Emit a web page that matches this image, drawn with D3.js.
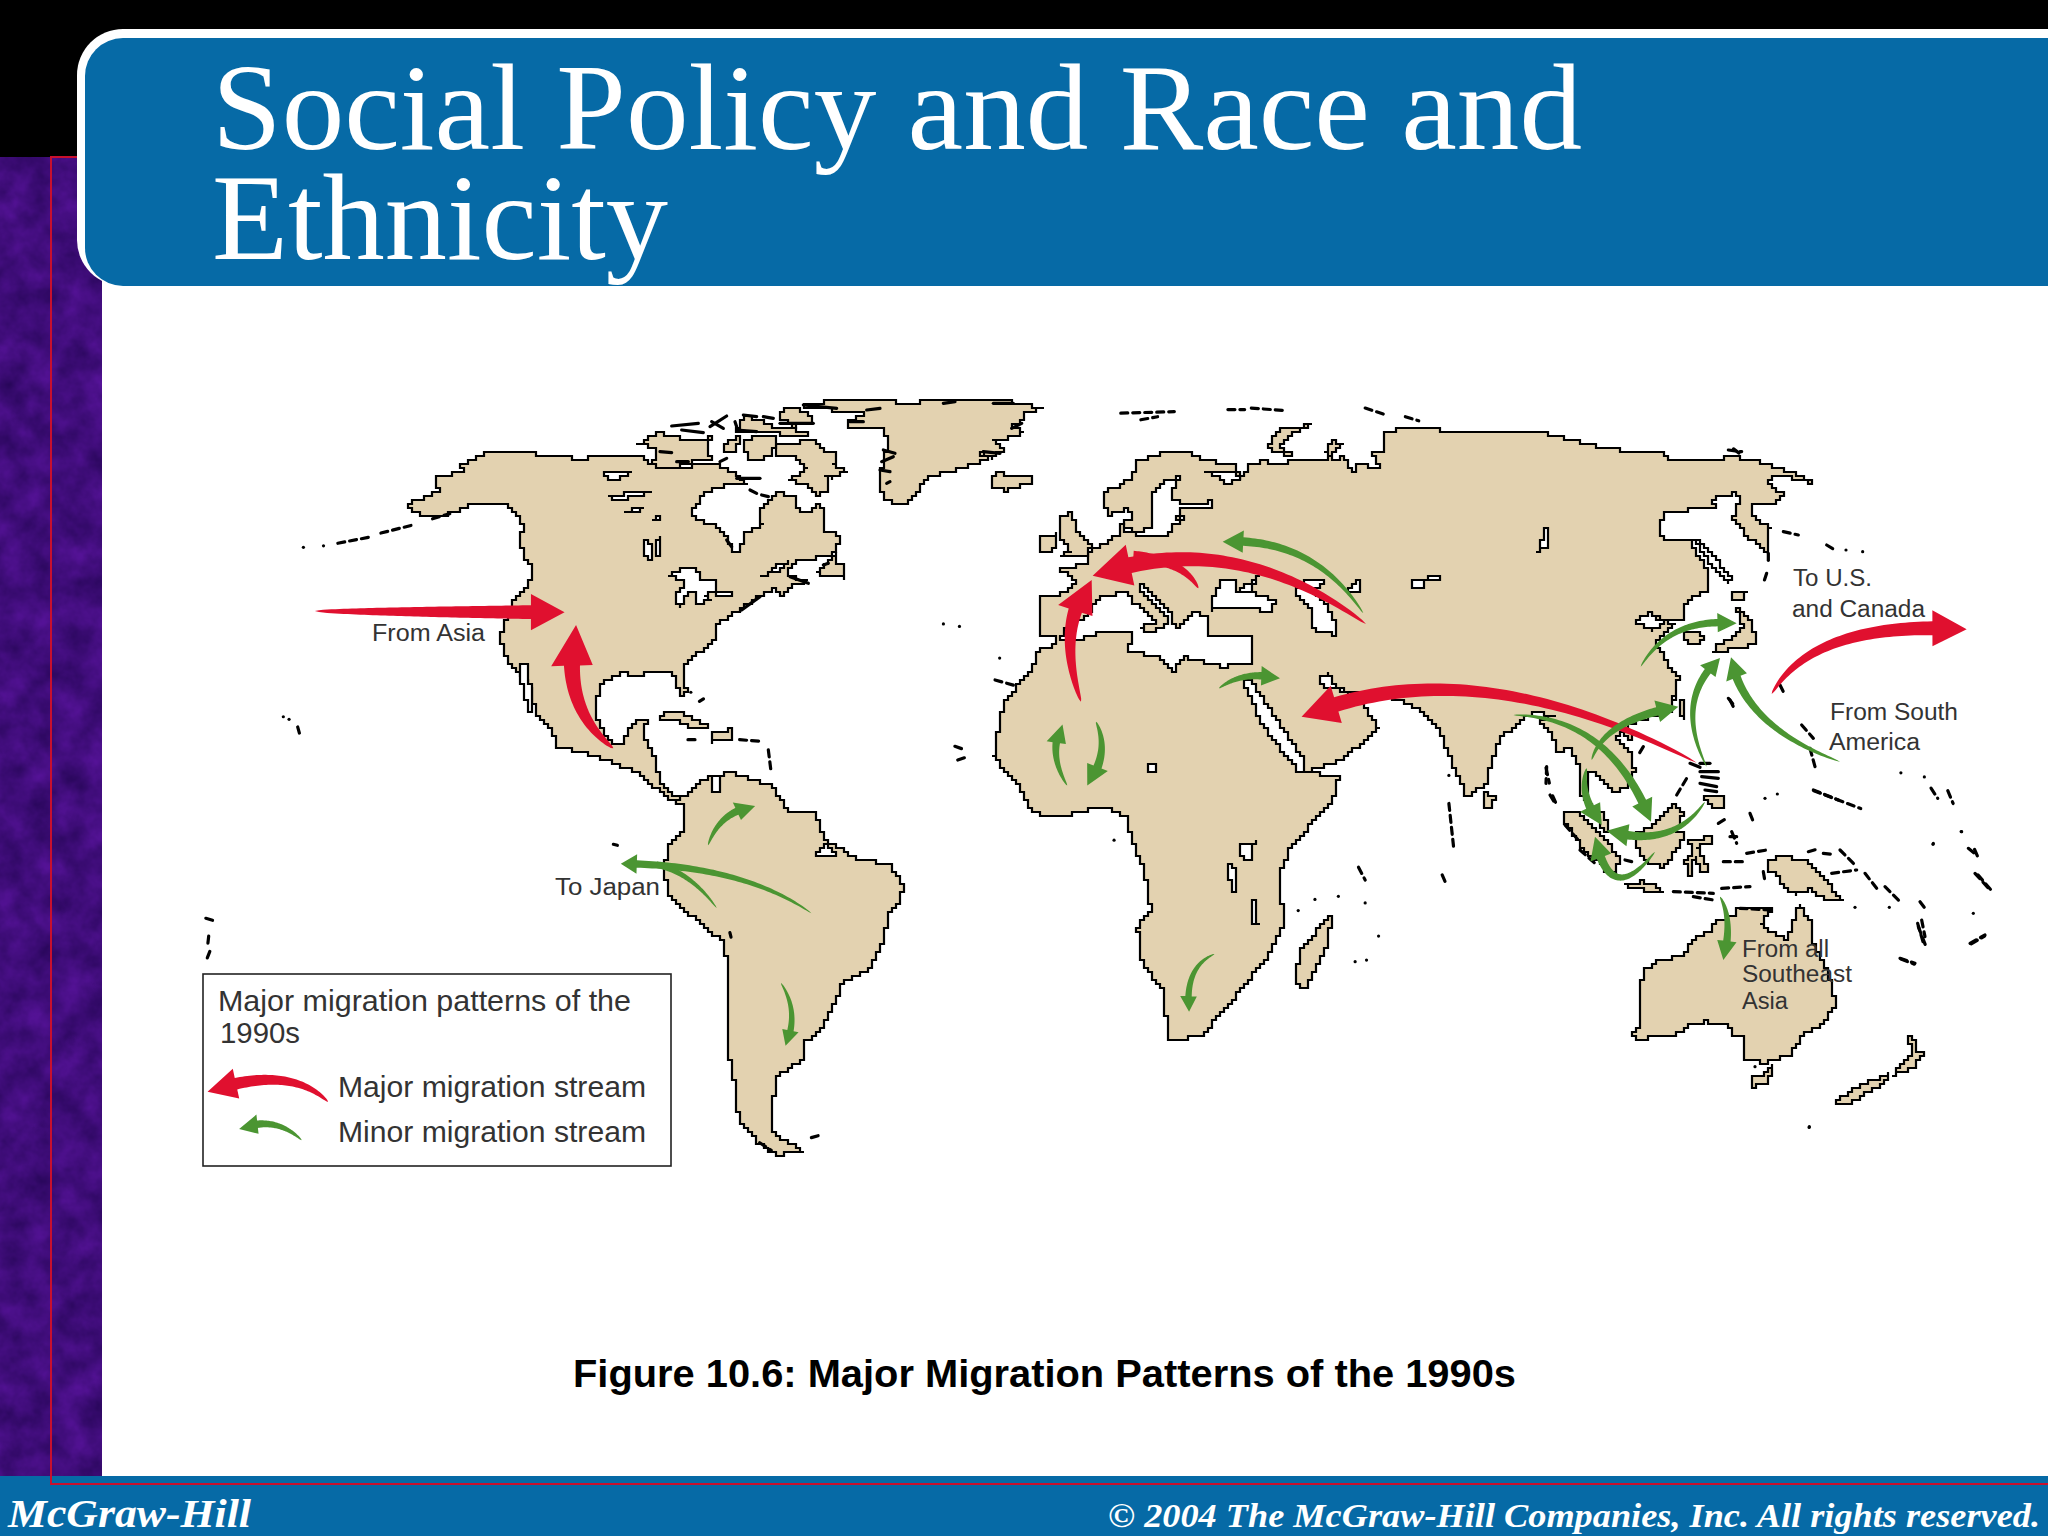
<!DOCTYPE html>
<html>
<head>
<meta charset="utf-8">
<title>Social Policy and Race and Ethnicity</title>
<script src="https://cdn.jsdelivr.net/npm/d3@7"></script>
<style>
  html, body { margin: 0; padding: 0; background: #fff; }
  svg { display: block; }
  .land { fill: #e3d2b0; stroke: #000; stroke-width: 2.2; }
  .water { fill: #fff; stroke: #000; stroke-width: 2.2; }
  .islet { fill: none; stroke: #000; stroke-width: 3.2; stroke-linecap: round; stroke-linejoin: round; }
  .chain { stroke-dasharray: 7 5; }
  .label { font-family: "Liberation Sans", Arial, sans-serif; fill: #333; }
</style>
</head>
<body>
<svg id="chart" width="2048" height="1536"></svg>
<script>
// Map sheets: name, left, top, width, height of the piece of the map, and its grid size
const sheetList = [
  ["west", 180, 380, 900, 800, 1568, 1568],
  ["east", 950, 380, 1050, 800, 1568, 1568],
  ["arctic", 560, 390, 500, 300, 1500, 900],
  ["europe", 1020, 420, 420, 340, 1260, 1020],
  ["sea", 1500, 680, 340, 340, 1020, 1020],
  ["japan", 1600, 420, 380, 320, 1140, 960],
  ["oceania", 1560, 820, 440, 320, 1320, 960]
];

// Land outlines in sheet grid units
const northAmerica = [
  ["west", [[405,258],[395,245],[415,235],[450,215],[445,190],[495,180],[490,165],[520,150],[545,140],[590,140],[640,150],[662,147]]],
  ["arctic", [[50,210],[100,200],[170,195],[240,195],[270,225],[350,235],[400,225],[470,225],[530,260],[560,285],[530,285],[480,290],[430,320],[398,355],[405,390],[450,400],[500,440],[515,488],[540,480],[555,430],[608,400],[595,370],[615,345],[640,315],[660,310],[705,320],[715,360],[740,370],[765,345],[785,350],[790,420],[820,430],[838,450],[830,490],[780,500],[720,515],[680,540],[690,560],[745,575],[700,590],[660,620],[650,595],[600,620],[545,655],[510,680],[470,700],[470,745],[420,785],[372,825],[378,900]]],
  ["west", [[880,620],[875,622],[860,575],[830,570],[800,578],[770,575],[735,595],[722,650],[730,680],[750,710],[770,712],[780,690],[800,665],[815,670],[805,700],[830,745],[835,790],[860,815],[880,815],[878,830],[855,825],[830,800],[800,770],[760,750],[720,735],[660,720],[650,690],[620,650],[610,600],[590,575],[570,545],[555,500],[565,480],[575,440],[605,400],[615,370],[600,340],[590,310],[600,290],[585,260],[560,240],[520,240],[480,258],[450,270]]]
];
const southAmerica = [["west", [[855,825],[880,815],[900,790],[930,775],[960,770],[1030,795],[1060,845],[1105,850],[1125,905],[1185,940],[1235,950],[1260,990],[1255,1020],[1235,1050],[1225,1105],[1200,1160],[1155,1180],[1140,1225],[1115,1280],[1085,1300],[1090,1330],[1040,1370],[1035,1400],[1030,1440],[1035,1480],[1085,1512],[1040,1520],[1010,1495],[975,1450],[965,1370],[955,1320],[955,1200],[950,1100],[880,1040],[850,1000],[845,960],[850,910],[880,875],[880,830]]]];
const afroEurasia = [
  ["east", [[104,594],[80,640],[65,740],[100,790],[125,850],[165,855],[230,835],[265,860],[270,900],[290,960],[300,1040],[280,1080],[285,1140],[320,1200],[325,1295],[375,1285],[430,1200],[475,1125],[500,1060],[490,975],[510,910],[570,830],[580,775],[530,770],[590,740],[640,680],[620,640],[590,610],[640,615],[700,645],[730,690],[770,815],[800,790],[820,700],[870,650],[905,660]]],
  ["sea", [[115,120],[160,180],[170,220],[205,200],[235,265],[240,345],[270,380],[315,400],[320,450],[295,420],[262,350],[262,270],[300,290],[345,340],[385,310],[405,270],[390,215],[345,170],[385,135],[420,120],[510,90],[530,40]]],
  ["japan", [[215,850],[235,770],[200,720],[165,660],[225,610],[170,590],[110,605],[150,580],[180,595],[245,600],[260,540],[320,510],[325,450],[300,410],[270,360],[210,360],[175,340],[190,280],[300,265],[345,265],[340,235],[400,220],[420,230],[400,295],[440,350],[500,395],[510,320],[450,280],[450,255],[520,255],[550,220],[500,185],[530,165],[640,190],[600,165],[480,125],[400,110],[330,125],[220,120],[180,95],[100,95],[40,85],[0,80]]],
  ["east", [[880,100],[780,105]]],
  ["europe", [[1180,20],[1090,40],[1095,100],[1050,90],[1075,145],[1010,130],[1000,160],[970,110],[945,125],[915,95],[930,60],[970,75],[920,115],[850,120],[790,130],[740,125],[690,130],[680,150],[660,185],[650,135],[560,120],[510,100],[430,100],[345,130],[340,170],[310,195],[255,215],[250,250],[265,285],[320,265],[340,290],[310,310],[295,345],[245,375],[200,400],[205,430],[125,450],[170,490],[115,530],[60,530],[55,640],[110,655],[95,680],[60,690],[35,750]]]
];
const otherLand = [
  ["arctic", [[730,45],[830,30],[1000,30],[1005,45],[1080,35],[1240,25],[1300,25],[1370,40],[1450,55],[1390,70],[1385,100],[1355,110],[1390,130],[1340,150],[1300,155],[1330,180],[1300,205],[1265,190],[1280,210],[1190,240],[1100,265],[1075,300],[1045,345],[1000,340],[975,320],[960,290],[965,230],[975,190],[985,150],[970,115],[870,110],[860,95],[910,70],[830,60],[750,55]]],
  ["arctic", [[1295,265],[1315,245],[1350,260],[1410,258],[1415,280],[1370,295],[1340,300],[1300,285]]],
  ["arctic", [[650,165],[750,150],[790,180],[830,195],[820,225],[865,243],[820,265],[795,255],[805,300],[770,315],[735,280],[680,270],[740,235],[700,195],[650,200]]],
  ["arctic", [[230,165],[290,130],[350,140],[380,155],[440,155],[450,140],[445,190],[450,205],[400,215],[340,235],[270,225],[290,200],[285,170]]],
  ["arctic", [[500,150],[540,140],[530,180],[495,180]]],
  ["arctic", [[555,145],[650,140],[640,190],[600,210],[560,205]]],
  ["arctic", [[660,60],[700,50],[740,70],[760,100],[700,110],[660,80]]],
  ["arctic", [[550,75],[600,95],[640,110],[745,125],[740,135],[620,130],[570,130],[530,120]]],
  ["arctic", [[770,545],[800,515],[825,490],[830,520],[855,520],[855,565],[800,555]]],
  ["west", [[838,655],[860,648],[890,660],[920,680],[900,685],[870,668],[840,665]]],
  ["west", [[930,690],[960,685],[965,705],[930,710]]],
  ["europe", [[120,290],[155,275],[170,340],[210,380],[200,405],[125,410],[150,390],[120,340]]],
  ["europe", [[55,385],[65,350],[110,340],[100,400],[60,395]]],
  ["europe", [[745,85],[770,30],[870,15],[810,45],[780,80],[810,105],[760,95]]],
  ["east", [[570,1050],[565,1110],[530,1195],[515,1175],[525,1110]]],
  ["east", [[800,810],[815,820],[805,840],[795,830]]],
  ["sea", [[190,400],[230,400],[300,460],[355,540],[350,585],[320,570],[250,500],[200,430]]],
  ["sea", [[375,615],[420,605],[480,625],[490,640],[440,630]]],
  ["sea", [[405,465],[450,440],[480,405],[520,375],[550,400],[530,455],[555,465],[530,510],[490,560],[430,540],[415,500]]],
  ["sea", [[565,480],[640,470],[640,490],[590,500],[610,540],[625,580],[600,570],[585,530],[570,590],[555,540],[575,510]]],
  ["sea", [[610,350],[660,345],[675,380],[640,385]]],
  ["sea", [[535,65],[555,60],[555,115],[540,95]]],
  ["sea", [[375,155],[400,155],[395,175],[375,170]]],
  ["japan", [[255,630],[290,630],[310,660],[280,675],[260,670]]],
  ["japan", [[410,560],[450,600],[470,670],[430,680],[380,690],[335,700],[350,670],[400,650],[430,620]]],
  ["japan", [[390,520],[440,520],[430,545],[400,545]]],
  ["oceania", [[620,130],[660,105],[740,125],[780,165],[810,200],[850,240],[800,240],[760,205],[710,225],[670,195],[660,165],[620,150]]],
  ["oceania", [[250,450],[290,425],[370,405],[405,350],[445,335],[470,300],[520,290],[530,265],[630,270],[605,315],[635,340],[680,360],[715,255],[755,320],[760,370],[790,430],[820,510],[825,560],[790,610],[730,650],[690,710],[640,720],[620,730],[555,715],[550,650],[520,640],[505,615],[440,605],[380,620],[350,645],[280,650],[230,665],[215,640],[240,615],[240,530],[245,480]]],
  ["oceania", [[575,770],[610,765],[630,740],[640,735],[625,790],[575,805]]],
  ["oceania", [[825,840],[900,795],[985,760],[975,790],[890,840],[855,855]]],
  ["oceania", [[1000,765],[1015,740],[1060,690],[1045,650],[1060,650],[1065,695],[1095,705],[1060,745],[1030,755]]]
];

// Seas and lakes that sit inside the land outlines
const waters = [
  ["europe", [[125,655],[165,665],[230,640],[300,630],[340,640],[325,690],[410,710],[460,750],[490,710],[600,740],[690,730],[700,645],[600,645],[570,650],[560,590],[530,575],[490,610],[470,625],[450,570],[360,490],[355,510],[440,590],[440,610],[400,640],[360,625],[410,600],[335,540],[320,515],[235,535],[190,600],[150,610]]],
  ["europe", [[570,550],[600,485],[640,480],[650,510],[700,480],[715,470],[690,510],[660,515],[730,525],[765,550],[750,575],[680,560],[620,565],[575,570]]],
  ["europe", [[825,510],[850,480],[910,480],[905,505],[860,500],[920,555],[950,610],[945,645],[900,635],[880,620],[880,570]]],
  ["europe", [[400,215],[440,180],[480,170],[450,240],[500,255],[550,255],[575,240],[580,260],[550,265],[490,265],[465,300],[495,285],[490,300],[460,320],[440,350],[370,350],[320,330],[305,310],[350,340],[400,310],[400,260]]],
  ["europe", [[550,150],[650,160],[660,180],[615,195],[595,165]]],
  ["europe", [[985,500],[1015,480],[1015,520],[990,520]]],
  ["east", [[438,585],[450,590],[490,670],[528,750],[525,772],[500,735],[465,670]]],
  ["east", [[550,580],[565,575],[575,600],[590,610],[560,600]]],
  ["east", [[295,750],[310,750],[310,765],[300,765]]],
  ["east", [[435,910],[455,905],[450,940],[435,935]]],
  ["east", [[415,950],[423,950],[430,1005],[422,1005]]],
  ["east", [[448,1020],[456,1020],[460,1068],[452,1068]]],
  ["east", [[878,335],[890,290],[895,330]]],
  ["east", [[690,392],[730,386],[730,393],[705,395],[705,405],[692,405]]],
  ["arctic", [[325,560],[370,535],[405,530],[420,565],[465,575],[465,600],[430,620],[460,630],[405,645],[410,610],[405,600],[370,620],[365,648],[345,645],[350,600],[375,580],[360,565]]],
  ["arctic", [[470,610],[520,605],[510,620],[470,620]]],
  ["arctic", [[135,250],[180,240],[220,245],[200,260],[150,268]]],
  ["arctic", [[145,322],[200,310],[280,300],[230,320],[190,328]]],
  ["arctic", [[195,365],[225,352],[255,358],[200,370]]],
  ["arctic", [[270,395],[295,378],[298,392]]],
  ["arctic", [[255,455],[275,460],[270,510],[258,500]]],
  ["arctic", [[290,445],[305,440],[300,500],[285,500]]],
  ["arctic", [[605,558],[645,525],[680,515],[675,535]]],
  ["west", [[592,555],[605,560],[615,640],[610,650],[598,610]]],
  ["west", [[925,780],[940,780],[940,805],[930,805]]],
  ["west", [[1105,925],[1125,910],[1140,930],[1120,935]]],
  ["japan", [[105,605],[145,575],[165,595],[195,605],[160,630]]],
  ["japan", [[280,355],[320,385],[395,480],[385,490],[340,440]]]
];

// Small islands and reefs, too small to fill
const westIslets = [[[215,328]],[[250,325]],[[275,320],[330,308]],[[350,300],[410,283]],[[440,272],[470,262]],[[180,660]],[[190,665]],[[205,680],[208,692]],[[45,1055],[60,1060]],[[50,1090],[48,1110]],[[52,1120],[45,1140]],[[890,612]],[[905,630],[912,625]],[[885,705],[900,705]],[[975,705],[1010,708]],[[1025,725],[1030,770]],[[1100,1485],[1115,1480]],[[958,1083],[960,1092]],[[755,910],[762,912]],[[1330,478]],[[1358,483]],[[1428,545]],[[1420,588],[1452,598]],[[1350,718],[1368,725]],[[1355,745],[1368,740]],[[1010,1495],[1030,1510]]];
const eastIslets = [[[255,65],[335,62]],[[285,78],[310,72]],[[415,58],[440,58]],[[450,55],[500,60]],[[620,55],[650,68]],[[680,72],[700,80]],[[245,902]],[[610,955],[620,980]],[[735,970],[740,985]],[[580,1012]],[[545,1018]],[[520,1040]],[[620,1025]],[[605,1140]],[[622,1137]],[[640,1090]],[[745,830],[752,915]],[[745,775]],[[890,760],[895,790]],[[900,815],[905,830]],[[1170,135],[1180,145]],[[1420,770]],[[1455,778]],[[1465,800],[1475,820]],[[1490,805],[1498,830]],[[1290,805],[1360,840]],[[1530,920],[1535,935]],[[1535,970],[1555,1000]],[[1445,1065],[1455,1110]],[[1525,1105],[1545,1090]],[[1420,1135],[1440,1145]],[[1283,1465]],[[1510,885]],[[1468,910]]];
const seaIslets = [[[140,260],[138,310]],[[150,345],[165,370]],[[195,435],[235,480]],[[240,510],[285,550]],[[530,345],[560,295]],[[695,455],[710,490]],[[750,400],[760,425]],[[655,430],[680,415]],[[375,540],[395,545]],[[520,635],[640,640]],[[580,650],[640,660]],[[665,625],[750,620]],[[720,685],[810,690]],[[790,575],[795,605]],[[795,355]],[[832,342]],[[940,330],[1015,360]],[[930,205],[945,260]],[[905,135],[940,175]],[[430,200],[415,225]],[[690,60],[700,80]],[[740,520],[800,510]],[[670,545],[735,545]]];
const japanIslets = [[[385,90],[425,95]],[[550,335],[595,345]],[[680,375],[705,390]],[[738,390]],[[788,395]],[[505,400],[505,435]],[[500,460],[490,490]],[[540,795],[550,815]],[[385,835],[405,860]]];
const oceaniaIslets = [[[745,95],[770,88]],[[790,100],[815,103]],[[840,90],[885,135]],[[815,160],[890,150]],[[915,160],[950,205]],[[975,200],[1020,245]],[[885,262]],[[988,262]],[[1080,245],[1095,265]],[[1085,300],[1095,350]],[[1075,320],[1100,385]],[[1020,415],[1065,430]],[[1240,280]],[[1230,370],[1275,345]],[[1205,35]],[[1120,70]],[[1225,85],[1250,105]],[[1245,160],[1290,210]],[[748,920]],[[585,740]]];
// Crowded island groups, drawn as solid black
const arcticClumps = [[[335,108],[415,100]],[[365,120],[430,128]],[[450,110],[500,78]],[[455,95],[490,115]],[[525,95],[530,110]],[[550,75],[590,80]],[[610,80],[640,85]],[[530,120],[590,125]],[[660,100],[760,100]],[[730,45],[830,55]],[[300,185],[335,188]],[[350,215],[385,215]],[[480,215],[500,205]],[[530,265],[600,265]],[[570,300],[590,310]],[[605,315],[625,320]],[[690,560],[745,580]],[[790,525],[805,520]],[[500,450],[515,470]],[[545,660],[600,620]],[[970,180],[1005,190]],[[965,215],[1000,200]],[[960,240],[990,245]],[[980,280],[990,275]],[[1270,185],[1320,190]],[[1355,115],[1385,100]],[[1300,40],[1360,40]],[[1150,40],[1185,35]],[[920,60],[960,55]],[[870,95],[910,95]]];
const seaClumps = [[[570,250],[600,262]],[[600,275],[655,275]],[[605,290],[655,295]],[[600,310],[650,320]],[[615,330],[650,335]],[[600,250],[630,250]],[[690,470],[710,470]]];

// Migration streams: sheet, tail, bend, head, relative volume, arrowhead or not
const majorStreams = [
  ["west", [235,453], [450,455], [670,455], 13, true],
  ["west", [755,722], [660,640], [690,480], 15, true],
  ["europe", [535,505], [490,420], [340,410], 11, false],
  ["europe", [1038,612], [640,320], [218,467], 15, true],
  ["europe", [183,845], [105,620], [215,480], 13, true],
  ["east", [1115,750], [780,520], [525,660], 14, true],
  ["japan", [515,822], [640,600], [1100,628], 13, true],
  ["west", [258,1415], [190,1340], [48,1395], 11, true]
];
const minorStreams = [
  ["europe", [1030,580], [880,350], [608,365], 8, true],
  ["east", [175,795], [145,730], [168,675], 7, true],
  ["east", [218,670], [240,730], [205,795], 8, true],
  ["east", [395,1125], [350,1150], [357,1238], 6, true],
  ["europe", [597,805], [670,750], [780,775], 7, true],
  ["west", [920,912], [940,845], [1002,835], 7, true],
  ["west", [1100,1045], [980,950], [768,948], 7, true],
  ["west", [935,1035], [890,965], [830,950], 6, false],
  ["west", [1047,1182], [1080,1240], [1055,1305], 6, true],
  ["oceania", [480,230], [520,300], [490,420], 7, true],
  ["sea", [40,105], [330,110], [453,425], 8, true],
  ["sea", [275,240], [310,120], [535,80], 8, true],
  ["sea", [260,265], [235,350], [305,435], 8, true],
  ["sea", [615,365], [520,510], [320,452], 8, true],
  ["sea", [465,515], [330,690], [285,470], 8, true],
  ["sea", [620,260], [520,60], [660,-66], 7, true],
  ["japan", [720,1025], [430,920], [393,712], 8, true],
  ["japan", [122,740], [210,590], [410,610], 7, true],
  ["west", [212,1490], [165,1440], [103,1468], 7, true]
];

// Text on the slide
const titleLines = ["Social Policy and Race and", "Ethnicity"];
const caption = "Figure 10.6: Major Migration Patterns of the 1990s";
const footerLeft = "McGraw-Hill";
const footerRight = "© 2004 The McGraw-Hill Companies, Inc. All rights reserved.";
const mapLabels = ["From Asia", "To Japan", "To U.S.", "and Canada", "From South", "America", "From all", "Southeast", "Asia"];
const legendLines = ["Major migration patterns of the", "1990s", "Major migration stream", "Minor migration stream"];

const svg = d3.select("#chart");

// One pair of scales per map sheet
const sheets = {};
sheetList.forEach(([name, left, top, w, h, gridW, gridH]) => {
  sheets[name] = {
    x: d3.scaleLinear().domain([0, gridW]).range([left, left + w]),
    y: d3.scaleLinear().domain([0, gridH]).range([top, top + h])
  };
});
const place = (sheet, p) => [sheets[sheet].x(p[0]), sheets[sheet].y(p[1])];

// Slide background
const defs = svg.append("defs");
const grain = defs.append("filter").attr("id", "grain").attr("x", 0).attr("y", 0).attr("width", 1).attr("height", 1)
  .attr("color-interpolation-filters", "sRGB");
grain.append("feTurbulence").attr("type", "fractalNoise").attr("baseFrequency", 0.035).attr("numOctaves", 4).attr("seed", 7);
grain.append("feColorMatrix").attr("type", "matrix")
  .attr("values", "0.22 0 0 0 0.14  0.06 0 0 0 0.02  0.3 0 0 0 0.33  0 0 0 0 1");
defs.append("filter").attr("id", "soft").attr("x", 0).attr("y", 0)
  .attr("filterUnits", "userSpaceOnUse").attr("width", 2048).attr("height", 1536)
  .append("feGaussianBlur").attr("stdDeviation", 0.5);
defs.append("clipPath").attr("id", "headerClip")
  .append("rect").attr("x", 85).attr("y", 38).attr("width", 2100).attr("height", 248).attr("rx", 38);

svg.append("rect").attr("width", 2048).attr("height", 1536).attr("fill", "#fff");
svg.append("rect").attr("x", 0).attr("y", 155).attr("width", 102).attr("height", 1325).attr("filter", "url(#grain)");
svg.append("rect").attr("width", 2048).attr("height", 157).attr("fill", "#000");
svg.append("rect").attr("x", 0).attr("y", 1476).attr("width", 2048).attr("height", 60).attr("fill", "#066aa6");
svg.append("path").attr("d", "M80,157H51V1484H2048").attr("fill", "none").attr("stroke", "#c8102e").attr("stroke-width", 2);
svg.append("rect").attr("x", 77).attr("y", 29).attr("width", 2100).attr("height", 257).attr("rx", 46).attr("fill", "#fff");
svg.append("rect").attr("x", 85).attr("y", 38).attr("width", 2100).attr("height", 248).attr("rx", 38).attr("fill", "#066aa6");

// Title
const titleGroup = svg.append("g").attr("clip-path", "url(#headerClip)");
const titleEnds = [1370, 456];
const titleBase = [149, 259];
titleLines.forEach((line, i) => {
  titleGroup.append("text").text(line)
    .attr("x", 212).attr("y", titleBase[i])
    .attr("textLength", titleEnds[i]).attr("lengthAdjust", "spacingAndGlyphs")
    .attr("font-family", "'Liberation Serif', serif").attr("font-size", 122).attr("fill", "#fff");
});

// Coastlines come from a coarse bitmap map, so they are drawn on a small stair-step grid
const gridStep = 4;
const snap = (v) => Math.round(v / gridStep) * gridStep;
function stairs(points) {
  const out = [];
  points.forEach((p, i) => {
    const q = points[(i + 1) % points.length];
    const n = Math.max(1, Math.ceil(Math.hypot(q[0] - p[0], q[1] - p[1]) / (gridStep * 0.75)));
    d3.range(n).forEach((k) => out.push([snap(p[0] + (q[0] - p[0]) * k / n), snap(p[1] + (q[1] - p[1]) * k / n)]));
  });
  return out;
}
const stepLine = d3.line().curve(d3.curveStepAfter);
const coast = (points) => {
  const s = stairs(points);
  return stepLine(s.concat([s[0]])) + "Z";
};
const outline = d3.line().curve(d3.curveLinearClosed);
const openLine = d3.line();
const joined = (segments) => segments.flatMap(([sheet, pts]) => pts.map((p) => place(sheet, p)));

const map = svg.append("g").attr("id", "map").attr("filter", "url(#soft)");
map.append("path").attr("class", "land").attr("d", coast(joined(afroEurasia)));
map.append("path").attr("class", "land").attr("d", coast(joined(northAmerica)));
map.append("path").attr("class", "land").attr("d", coast(joined(southAmerica)));
map.selectAll(".other").data(otherLand).enter().append("path")
  .attr("class", "land other")
  .attr("d", ([sheet, pts]) => coast(pts.map((p) => place(sheet, p))));
map.selectAll(".water").data(waters).enter().append("path")
  .attr("class", "water")
  .attr("d", ([sheet, pts]) => coast(pts.map((p) => place(sheet, p))));

const isletLine = (sheet, pts) => {
  const placed = pts.map((p) => place(sheet, p));
  return openLine(placed.length === 1 ? [placed[0], placed[0]] : placed);
};
const isletSets = [["west", westIslets], ["east", eastIslets], ["sea", seaIslets], ["japan", japanIslets], ["oceania", oceaniaIslets]];
isletSets.forEach(([sheet, list]) => {
  map.selectAll(null).data(list).enter().append("path")
    .attr("class", (pts) => (pts.length > 1 ? "islet chain" : "islet"))
    .attr("d", (pts) => isletLine(sheet, pts));
});
[["arctic", arcticClumps], ["sea", seaClumps]].forEach(([sheet, list]) => {
  map.selectAll(null).data(list).enter().append("path")
    .attr("class", "islet")
    .attr("d", (pts) => isletLine(sheet, pts));
});

// Tapered curved arrows
const shaftWidth = d3.scaleLinear().domain([0, 15]).range([0, 16]);
function streamOutline([sheet, tail, bend, tip, volume, hasHead]) {
  const p0 = place(sheet, tail), c = place(sheet, bend), p1 = place(sheet, tip);
  const w = shaftWidth(volume);
  const headLen = hasHead ? w * 2.6 : 0;
  const headWide = w * 2.6;
  const at = (t) => [
    (1 - t) * (1 - t) * p0[0] + 2 * t * (1 - t) * c[0] + t * t * p1[0],
    (1 - t) * (1 - t) * p0[1] + 2 * t * (1 - t) * c[1] + t * t * p1[1]
  ];
  const normal = (t) => {
    const dx = 2 * (1 - t) * (c[0] - p0[0]) + 2 * t * (p1[0] - c[0]);
    const dy = 2 * (1 - t) * (c[1] - p0[1]) + 2 * t * (p1[1] - c[1]);
    const len = Math.hypot(dx, dy) || 1;
    return [-dy / len, dx / len];
  };
  const ts = d3.range(0, 61).map((i) => i / 60);
  let run = 0, prev = at(0);
  const lengths = ts.map((t) => { const q = at(t); run += Math.hypot(q[0] - prev[0], q[1] - prev[1]); prev = q; return run; });
  const end = ts[d3.bisectLeft(lengths, run - headLen)] || 1;
  const samples = ts.filter((t) => t <= end);
  const left = [], right = [];
  samples.forEach((t) => {
    const q = at(t), n = normal(t), half = (w / 2) * Math.pow(t / end, 0.5);
    left.push([q[0] + n[0] * half, q[1] + n[1] * half]);
    right.push([q[0] - n[0] * half, q[1] - n[1] * half]);
  });
  if (!hasHead) return outline(left.concat(right.reverse()));
  const q = at(end), n = normal(end);
  return outline(left.concat(
    [[q[0] + n[0] * headWide / 2, q[1] + n[1] * headWide / 2], p1, [q[0] - n[0] * headWide / 2, q[1] - n[1] * headWide / 2]],
    right.reverse()
  ));
}

// Legend box goes under its arrows
svg.append("rect").attr("x", 203).attr("y", 974).attr("width", 468).attr("height", 192)
  .attr("fill", "#fff").attr("stroke", "#222").attr("stroke-width", 1.6);

svg.selectAll(".major").data(majorStreams).enter().append("path")
  .attr("class", "major").attr("fill", "#e0102f").attr("d", streamOutline);
svg.selectAll(".minor").data(minorStreams).enter().append("path")
  .attr("class", "minor").attr("fill", "#4b9532").attr("d", streamOutline);

// Map labels: left, right, baseline
const labelSpots = [[372,485,641],[555,660,895],[1793,1872,586],[1792,1925,617],[1830,1958,720],[1829,1920,750],[1742,1829,957],[1742,1852,982],[1742,1788,1009]];
mapLabels.forEach((t, i) => {
  const [x0, x1, y] = labelSpots[i];
  svg.append("text").attr("class", "label").text(t).attr("x", x0).attr("y", y)
    .attr("font-size", 23).attr("textLength", x1 - x0).attr("lengthAdjust", "spacingAndGlyphs");
});
const legendSpots = [[218,631,1011],[220,300,1043],[338,646,1097],[338,646,1142]];
legendLines.forEach((t, i) => {
  const [x0, x1, y] = legendSpots[i];
  svg.append("text").attr("class", "label").text(t).attr("x", x0).attr("y", y)
    .attr("font-size", 29).attr("textLength", x1 - x0).attr("lengthAdjust", "spacingAndGlyphs");
});

// Caption and footer
svg.append("text").text(caption).attr("x", 573).attr("y", 1387)
  .attr("textLength", 943).attr("lengthAdjust", "spacingAndGlyphs")
  .attr("font-family", "'Liberation Sans', Arial, sans-serif").attr("font-weight", "bold")
  .attr("font-size", 38).attr("fill", "#000");
svg.append("text").text(footerLeft).attr("x", 8).attr("y", 1527)
  .attr("textLength", 243).attr("lengthAdjust", "spacingAndGlyphs")
  .attr("font-family", "'Liberation Serif', serif").attr("font-style", "italic").attr("font-weight", "bold")
  .attr("font-size", 40).attr("fill", "#fff");
svg.append("text").text(footerRight).attr("x", 1108).attr("y", 1527)
  .attr("textLength", 932).attr("lengthAdjust", "spacingAndGlyphs")
  .attr("font-family", "'Liberation Serif', serif").attr("font-style", "italic").attr("font-weight", "bold")
  .attr("font-size", 33).attr("fill", "#fff");
</script>
</body>
</html>
